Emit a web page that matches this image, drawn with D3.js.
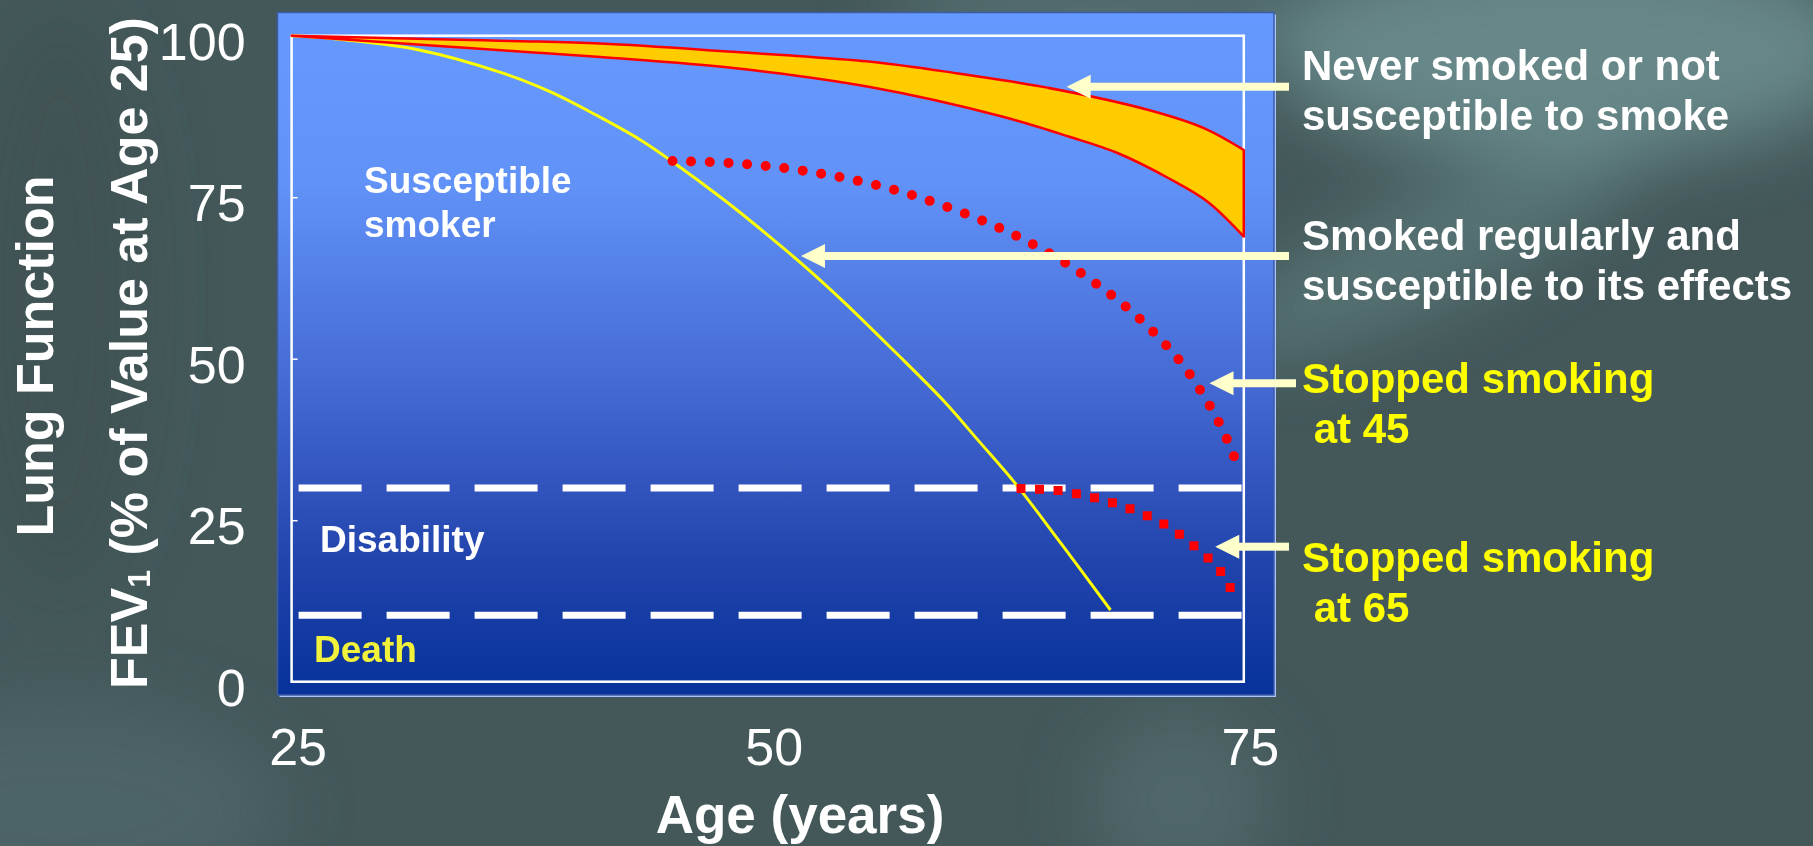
<!DOCTYPE html>
<html lang="en">
<head>
<meta charset="UTF-8">
<title>Lung function decline with age</title>
<script src="https://d3js.org/d3.v7.min.js"></script>
<style>
  html, body { margin: 0; padding: 0; background: #44585a; overflow: hidden; }
  svg { display: block; }
  text { font-family: "Liberation Sans", Arial, sans-serif; }
</style>
</head>
<body>
<svg id="chart" width="1813" height="846"></svg>
<script>
// ---- values ----
const xTicks = [25, 50, 75];
const yTicks = [0, 25, 50, 75, 100];

// never smoked / not susceptible: band between two edges
const neverUpperAge = [25, 33.3, 41.2, 48.2, 55.3, 59.9, 64.6, 70.0, 72.9, 75];
const neverUpperVal = [100, 99.4, 98.8, 97.5, 96.0, 94.2, 92.0, 88.5, 85.7, 82.3];
const neverLowerAge = [25, 33.3, 41.2, 48.2, 55.3, 62.3, 65.8, 68.4, 71.2, 73.1, 75];
const neverLowerVal = [100, 98.3, 96.7, 95.0, 92.1, 87.5, 84.4, 81.8, 77.7, 74.3, 68.9];

// susceptible smoker
const smokerAge = [25, 27.0, 31.7, 36.1, 38.6, 41.0, 43.3, 45.0, 47.7, 50.1, 51.9, 54.1, 56.6, 59.2, 61.1, 63.0, 65.4, 68.0];
const smokerVal = [100, 99.6, 97.8, 94.2, 91.3, 87.7, 83.9, 80.5, 74.6, 68.9, 64.4, 58.5, 51.3, 43.6, 37.2, 30.7, 21.4, 11.1];

// stopped smoking at 45
const stop45Age = [45.0, 48.0, 50.9, 53.8, 56.7, 59.5, 62.2, 64.8, 67.3, 69.6, 71.6, 72.7, 73.7, 74.5, 74.8];
const stop45Val = [80.6, 80.3, 79.5, 78.1, 76.1, 73.4, 70.2, 66.3, 61.5, 56.0, 49.8, 45.2, 40.1, 34.8, 32.2];

// stopped smoking at 65
const stop65Age = [63.3, 65.2, 67.1, 69.0, 70.8, 72.4, 73.8, 74.7];
const stop65Val = [29.9, 29.6, 28.5, 26.8, 24.4, 21.0, 17.0, 12.0];

// disability and death thresholds
const thresholds = [30, 10.3];

// callouts on the right
const noteLines = [
  ["Never smoked or not", "susceptible to smoke"],
  ["Smoked regularly and", "susceptible to its effects"],
  ["Stopped smoking", " at 45"],
  ["Stopped smoking", " at 65"]
];
const arrowTipAge = [65.7, 51.75, 73.2, 73.5];
const arrowTipVal = [92.1, 65.9, 46.2, 20.9];

// ---- layout ----
const svg = d3.select("#chart");
const plot = { left: 291.6, right: 1243.8, top: 35.7, bottom: 681.7 };
const panel = { x: 277.5, y: 12.5, w: 996.5, h: 682.5 };
const noteX = 1302;
const noteBaseline = [80, 250, 393, 572];
const noteColor = ["#ffffff", "#ffffff", "#ffff00", "#ffff00"];
const shaftEnd = [1289, 1289, 1296, 1289];

const x = d3.scaleLinear().domain([25, 75]).range([plot.left, plot.right]);
const y = d3.scaleLinear().domain([0, 100]).range([plot.bottom, plot.top]);

const zip = (a, b) => a.map((d, i) => [d, b[i]]);

// ---- background ----
const defs = svg.append("defs");
defs.append("filter").attr("id", "blur").attr("x", "-50%").attr("y", "-50%")
    .attr("width", "200%").attr("height", "200%")
  .append("feGaussianBlur").attr("stdDeviation", 35);

const grad = defs.append("linearGradient").attr("id", "panelGrad")
    .attr("x1", 0).attr("y1", 0).attr("x2", 0).attr("y2", 1);
grad.append("stop").attr("offset", "0%").attr("stop-color", "#6699ff");
grad.append("stop").attr("offset", "25%").attr("stop-color", "#6192f8");
grad.append("stop").attr("offset", "55%").attr("stop-color", "#4469d2");
grad.append("stop").attr("offset", "80%").attr("stop-color", "#2244ad");
grad.append("stop").attr("offset", "100%").attr("stop-color", "#063299");

svg.append("rect").attr("width", 1813).attr("height", 846).attr("fill", "#44585a");
const smoke = svg.append("g").attr("filter", "url(#blur)");
smoke.append("ellipse").attr("cx", 1570).attr("cy", 50).attr("rx", 300).attr("ry", 110)
    .attr("fill", "#7ea6a6").attr("opacity", 0.6);
smoke.append("ellipse").attr("cx", 1430).attr("cy", 250).attr("rx", 230).attr("ry", 55)
    .attr("transform", "rotate(-25 1430 250)").attr("fill", "#6e9595").attr("opacity", 0.45);
smoke.append("ellipse").attr("cx", 1100).attr("cy", 10).attr("rx", 220).attr("ry", 40)
    .attr("fill", "#6f9393").attr("opacity", 0.45);
smoke.append("ellipse").attr("cx", 1180).attr("cy", 800).attr("rx", 90).attr("ry", 90)
    .attr("fill", "#5f7b7d").attr("opacity", 0.45);
smoke.append("ellipse").attr("cx", 60).attr("cy", 810).attr("rx", 220).attr("ry", 110)
    .attr("fill", "#536b6f").attr("opacity", 0.6);
smoke.append("ellipse").attr("cx", 60).attr("cy", 300).attr("rx", 90).attr("ry", 300)
    .attr("fill", "#3b4e50").attr("opacity", 0.5);

// ---- panel ----
svg.append("rect")
    .attr("x", panel.x + 2).attr("y", panel.y + 2).attr("width", panel.w).attr("height", panel.h)
    .attr("fill", "#a8c4ff");
svg.append("rect")
    .attr("x", panel.x).attr("y", panel.y).attr("width", panel.w).attr("height", panel.h)
    .attr("fill", "url(#panelGrad)")
    .attr("stroke", "#3d5ca6").attr("stroke-width", 1.5);

svg.append("rect")
    .attr("x", plot.left).attr("y", plot.top)
    .attr("width", plot.right - plot.left).attr("height", plot.bottom - plot.top)
    .attr("fill", "none").attr("stroke", "#ffffff").attr("stroke-width", 2.5);

// ---- axes ----
const yAxis = svg.append("g")
    .attr("transform", `translate(${plot.left},0)`)
    .call(d3.axisLeft(y).tickValues(yTicks).tickSizeInner(-6).tickSizeOuter(0).tickPadding(46));
yAxis.select(".domain").remove();
yAxis.selectAll(".tick line").attr("stroke", "#ffffff").attr("stroke-width", 1.5);
yAxis.selectAll(".tick text")
    .attr("fill", "#ffffff").attr("font-size", 52).attr("dy", "0.45em")
    .style("font-family", '"Liberation Sans", Arial, sans-serif');

const xAxis = svg.append("g")
    .attr("transform", `translate(0,${plot.bottom})`)
    .call(d3.axisBottom(x).tickValues(xTicks).tickSize(0).tickPadding(46));
xAxis.select(".domain").remove();
xAxis.selectAll(".tick text")
    .attr("fill", "#ffffff").attr("font-size", 52).attr("dx", 6)
    .style("font-family", '"Liberation Sans", Arial, sans-serif');

svg.append("text")
    .attr("x", 800).attr("y", 833)
    .attr("text-anchor", "middle").attr("fill", "#ffffff")
    .attr("font-size", 53).attr("font-weight", "bold")
    .text("Age (years)");

svg.append("text")
    .attr("transform", "translate(53,356) rotate(-90)")
    .attr("text-anchor", "middle").attr("fill", "#ffffff")
    .attr("font-size", 52).attr("font-weight", "bold")
    .text("Lung Function");

const fev = svg.append("text")
    .attr("transform", "translate(147,353) rotate(-90)")
    .attr("text-anchor", "middle").attr("fill", "#ffffff")
    .attr("font-size", 52).attr("font-weight", "bold");
fev.append("tspan").text("FEV");
fev.append("tspan").attr("font-size", 32).attr("dy", 3).text("1");
fev.append("tspan").attr("dy", -3).text(" (% of Value at Age 25)");

// ---- threshold lines ----
svg.selectAll(".threshold").data(thresholds).join("line")
    .attr("class", "threshold")
    .attr("x1", x(25)).attr("x2", x(75))
    .attr("y1", d => y(d)).attr("y2", d => y(d))
    .attr("stroke", "#ffffff").attr("stroke-width", 7)
    .attr("stroke-dasharray", "63 25").attr("stroke-dashoffset", 81);

// ---- curves ----
const line = d3.line().x(d => x(d[0])).y(d => y(d[1])).curve(d3.curveCatmullRom.alpha(0.5));

svg.append("path")
    .attr("d", line(zip(smokerAge, smokerVal)))
    .attr("fill", "none").attr("stroke", "#ffff00").attr("stroke-width", 3);

const upperPts = zip(neverUpperAge, neverUpperVal);
const lowerPts = zip(neverLowerAge, neverLowerVal).reverse();
svg.append("path")
    .attr("d", line(upperPts) + line(lowerPts).replace(/^M/, "L") + "Z")
    .attr("fill", "#ffcc00").attr("stroke", "#ff0000").attr("stroke-width", 2.5)
    .attr("stroke-linejoin", "round");

const p45 = svg.append("path")
    .attr("d", line(zip(stop45Age, stop45Val)))
    .attr("fill", "none").attr("stroke", "#ff0000").attr("stroke-width", 10)
    .attr("stroke-linecap", "round");
const len45 = p45.node().getTotalLength();
p45.attr("stroke-dasharray", `0 ${len45 / 37}`);

const p65 = svg.append("path")
    .attr("d", line(zip(stop65Age, stop65Val)))
    .attr("fill", "none").attr("stroke", "#ff0000").attr("stroke-width", 9)
    .attr("stroke-linecap", "square");
const len65 = p65.node().getTotalLength();
p65.attr("stroke-dasharray", `0 ${len65 / 14}`);

// ---- labels inside the plot ----
const plotLabel = (tx, ty, str, color) => svg.append("text")
    .attr("x", tx).attr("y", ty).attr("fill", color)
    .attr("font-size", 37).attr("font-weight", "bold").text(str);
plotLabel(364, 193, "Susceptible", "#ffffff");
plotLabel(364, 237, "smoker", "#ffffff");
plotLabel(320, 552, "Disability", "#ffffff");
plotLabel(314, 662, "Death", "#f2f23a");

// ---- callouts ----
noteLines.forEach((lines, i) => {
  const ay = y(arrowTipVal[i]);
  const ax = x(arrowTipAge[i]);
  svg.append("rect")
      .attr("x", ax + 20).attr("y", ay - 4)
      .attr("width", shaftEnd[i] - ax - 20).attr("height", 8)
      .attr("fill", "#ffffcc");
  svg.append("path")
      .attr("d", `M${ax},${ay} L${ax + 24},${ay - 12} L${ax + 24},${ay + 12} Z`)
      .attr("fill", "#ffffcc");

  const t = svg.append("text")
      .attr("x", noteX).attr("y", noteBaseline[i])
      .attr("fill", noteColor[i]).attr("font-size", 42).attr("font-weight", "bold")
      .style("white-space", "pre");
  lines.forEach((s, j) => {
    t.append("tspan").attr("x", noteX).attr("dy", j === 0 ? 0 : 50).text(s);
  });
});
</script>
</body>
</html>
